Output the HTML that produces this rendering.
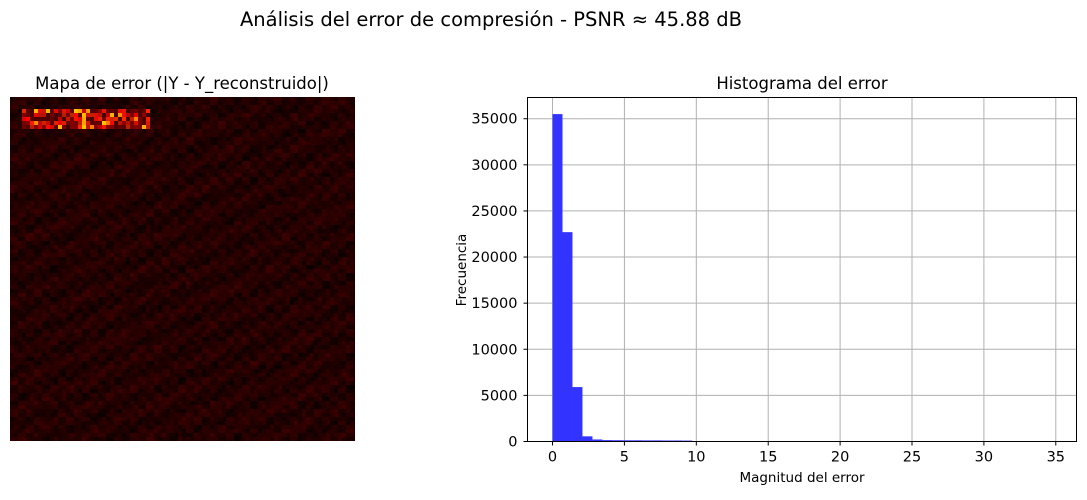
<!DOCTYPE html>
<html><head><meta charset="utf-8"><style>
body{margin:0;background:#fff;font-family:"Liberation Sans","DejaVu Sans",sans-serif;}
svg text{font-family:"DejaVu Sans","Liberation Sans",sans-serif;fill:#000;}
</style></head><body>
<svg width="1087" height="495" viewBox="0 0 1087 495" xmlns="http://www.w3.org/2000/svg">
<rect width="1087" height="495" fill="#fff"/>
<text x="491" y="26" font-size="19.5" text-anchor="middle">Análisis del error de compresión - PSNR ≈ 45.88 dB</text>
<text x="182" y="89" font-size="16.5" text-anchor="middle">Mapa de error (|Y - Y_reconstruido|)</text>
<g id="heat"></g>
<text x="802" y="89" font-size="16.5" text-anchor="middle">Histograma del error</text>
<g id="grid"></g>
<g id="bars"></g>
<g id="ticks"></g>
<rect x="527.5" y="97.5" width="549" height="344" fill="none" stroke="#000" stroke-width="1"/>
<text x="802" y="482" font-size="13.5" text-anchor="middle">Magnitud del error</text>
<text transform="translate(466,270) rotate(-90)" font-size="13.5" text-anchor="middle">Frecuencia</text>
</svg>
<script>
const binWidth = 0.694;
const binCounts = [35500,22700,5900,560,220,150,140,130,130,120,120,110,110,100];
const xTicks = [0,5,10,15,20,25,30,35];
const yTicks = [0,5000,10000,15000,20000,25000,30000,35000];
const NS='http://www.w3.org/2000/svg';
const X0=527.5,X1=1076.5,Y0=441.5,Y1=97.5;
const xMin=-1.74,xMax=36.44,yMax=37300;
const xs=v=>X0+(v-xMin)/(xMax-xMin)*(X1-X0);
const ys=v=>Y0-v/yMax*(Y0-Y1);
function mk(t,a,p){const e=document.createElementNS(NS,t);for(const k in a)e.setAttribute(k,a[k]);p.appendChild(e);return e;}
const grid=document.getElementById('grid'),bars=document.getElementById('bars'),ticks=document.getElementById('ticks');
xTicks.forEach(v=>{const x=xs(v);
 const g=mk('line',{x1:x,x2:x,y1:Y1,y2:Y0,stroke:'#b0b0b0','stroke-width':1},grid);
 
 mk('line',{x1:x,x2:x,y1:Y0,y2:Y0+4,stroke:'#000'},ticks);
 const t=mk('text',{x:x,y:Y0+20,'font-size':14.5,'text-anchor':'middle'},ticks);t.textContent=v;
 });
yTicks.forEach(v=>{const y=ys(v);
 const g=mk('line',{x1:X0,x2:X1,y1:y,y2:y,stroke:'#b0b0b0','stroke-width':1},grid);
 
 mk('line',{x1:X0-4,x2:X0,y1:y,y2:y,stroke:'#000'},ticks);
 const t=mk('text',{x:X0-10,y:y+5,'font-size':14.5,'text-anchor':'end'},ticks);t.textContent=v;
 });
binCounts.forEach((c,i)=>{const xa=xs(i*binWidth),xb=xs((i+1)*binWidth);
 const r=mk('rect',{x:xa,y:ys(c),width:xb-xa,height:Y0-ys(c),fill:'#3333ff'},bars);
 });
// heatmap texture
const heat=document.getElementById('heat');
mk('rect',{x:10,y:97,width:345,height:344,fill:'#1a0000'},heat);
let s=7;const rnd=()=>{s=(s*9301+49297)%233280;return s/233280;};
let html='';
for(let r=0;r<86;r++)for(let c=0;c<86;c++){
 const x=10+c*4,y=97+r*4;
 let col;
 if(y>=108&&y<=126&&x>=20&&x<=146){
   const v=rnd();
   if(v>0.88)col='rgb(255,'+Math.round(120+100*rnd())+',0)';
   else if(v>0.5)col='rgb('+Math.round(180+75*rnd())+','+Math.round(40*rnd())+',0)';
   else col='rgb('+Math.round(60+80*rnd())+',0,0)';
 } else {
   const v=18+22*rnd()+14*(((r>>1)+(c>>1))%2)+8*Math.sin(r*0.9+c*0.4);
   col='rgb('+Math.round(Math.max(8,v))+',0,0)';
 }
 html+='<rect x="'+x+'" y="'+y+'" width="4" height="4" fill="'+col+'"/>';}
heat.insertAdjacentHTML('beforeend',html);
</script>
</body></html>
